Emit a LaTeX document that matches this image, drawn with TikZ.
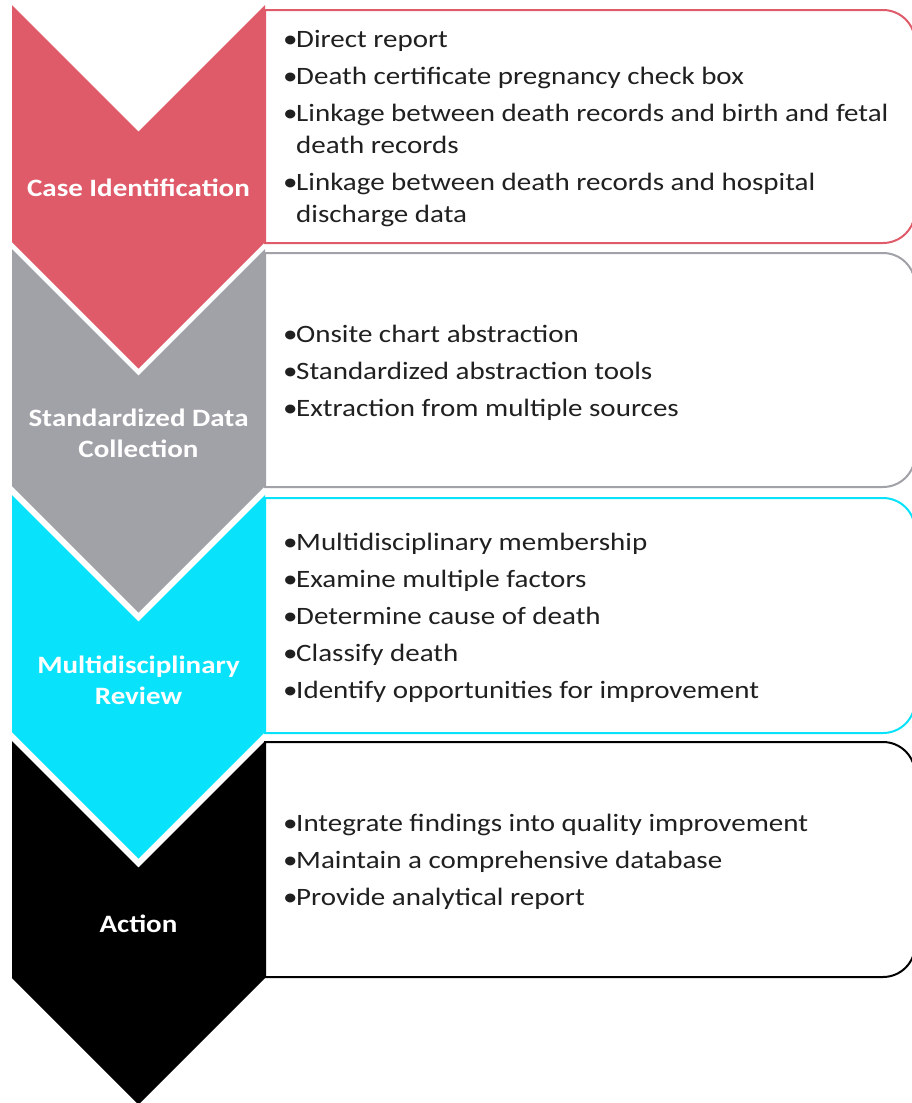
\documentclass[tikz,border=0pt]{standalone}
\usepackage{fontspec}
\setmainfont{Carlito}[FakeStretch=1.16]
\definecolor{caseRed}{RGB}{224,91,106}
\definecolor{dataGray}{RGB}{160,162,168}
\definecolor{reviewCyan}{RGB}{8,226,250}
\definecolor{actBlack}{RGB}{0,0,0}
\definecolor{bodyText}{RGB}{32,32,32}
\newcommand{\bul}{\makebox[13pt][l]{•}}
\newcommand{\hang}{\hspace*{13pt}}
\begin{document}
\begin{tikzpicture}[x=1pt,y=-1pt,
  chevron/.pic={\fill[#1] (0,0) -- (126.5,126.5) -- (253,0) -- (253,237)
                 -- (126.5,363.5) -- (0,237) -- cycle;},
  steplabel/.style={text=white,font=\bfseries\fontsize{25}{31}\selectfont,align=center},
  items/.style={anchor=west,align=left,text=bodyText,inner sep=0pt,
                font=\fontsize{25}{32}\selectfont}]
\useasboundingbox (0,0) rectangle (912,1103);

% chevrons, top to bottom
\pic at (12,5)   {chevron=caseRed};
\pic at (12,249) {chevron=dataGray};
\pic at (12,495) {chevron=reviewCyan};
\pic at (12,741) {chevron=actBlack};

% rounded content boxes, square on the chevron side (y grows downward)
\foreach \col/\top/\bot in {caseRed/10/243, dataGray/253/487,
                            reviewCyan/498/733, actBlack/742/977}{
  \draw[\col,line width=2pt,fill=white]
    (265,\top) -- (883,\top) arc[start angle=-90,end angle=0,radius=32]
    -- (915,\bot-32) arc[start angle=0,end angle=90,radius=32]
    -- (265,\bot) -- cycle;
}

% step labels
\node[steplabel] (l1) at (138.5,188) {Case Identification};
\node[steplabel] (l2) at (138.5,433) {Standardized Data\\Collection};
\node[steplabel] (l3) at (138.5,680) {Multidisciplinary\\Review};
\node[steplabel] (l4) at (138.5,924) {Action};

% box contents
\node[items] (t1) at (283,129) {\bul Direct report\\[5pt]
  \bul Death certificate pregnancy check box\\[5pt]
  \bul Linkage between death records and birth and fetal\\
  \hang death records\\[5pt]
  \bul Linkage between death records and hospital\\
  \hang discharge data};
\node[items] (t2) at (283,373) {\bul Onsite chart abstraction\\[5pt]
  \bul Standardized abstraction tools\\[5pt]
  \bul Extraction from multiple sources};
\node[items] (t3) at (283,618) {\bul Multidisciplinary membership\\[5pt]
  \bul Examine multiple factors\\[5pt]
  \bul Determine cause of death\\[5pt]
  \bul Classify death\\[5pt]
  \bul Identify opportunities for improvement};
\node[items] (t4) at (283,862) {\bul Integrate findings into quality improvement\\[5pt]
  \bul Maintain a comprehensive database\\[5pt]
  \bul Provide analytical report};
\end{tikzpicture}
\end{document}
